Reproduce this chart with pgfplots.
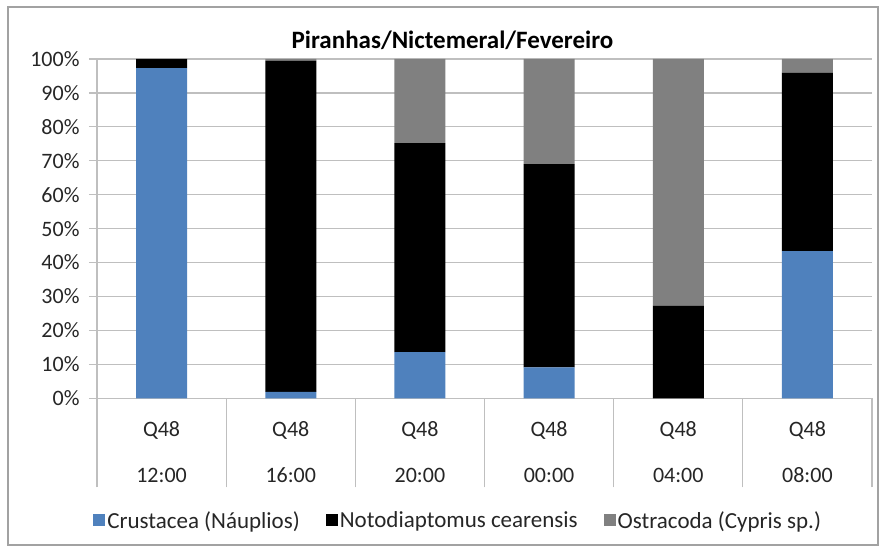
\documentclass[border=0pt]{standalone}
\usepackage{pgfplots}
\pgfplotsset{compat=1.18}
\usepackage{fontspec}
\setmainfont{Carlito}
\definecolor{cBlue}{HTML}{4F81BD}
\definecolor{cGray}{HTML}{808080}
\definecolor{gridc}{HTML}{BFBFBF}
\definecolor{txt}{HTML}{262626}
\begin{document}
\begin{tikzpicture}
\path[use as bounding box] (-97bp,-149.7bp) rectangle (784bp,398.3bp);
\draw[color=gridc!85!black, line width=1.5bp] (-89bp,-146.7bp) rectangle (781bp,391.3bp);
\begin{axis}[
  anchor=south west, at={(0,0)},
  width=775bp, height=339.3bp, scale only axis,
  ybar stacked, bar width=51bp,
  xmin=-0.5, xmax=5.5, ymin=0, ymax=100,
  axis x line*=bottom, axis y line*=left,
  axis line style={gridc, line width=1.2bp},
  ymajorgrids, grid style={gridc, line width=1.2bp},
  ytick={0,10,...,100},
  yticklabels={0\%,10\%,20\%,30\%,40\%,50\%,60\%,70\%,80\%,90\%,100\%},
  y tick label style={font=\fontsize{22bp}{26bp}\selectfont, text=txt, xshift=-6bp},
  ytick style={gridc, line width=1.2bp},
  major tick length=8bp, tick align=outside,
  xtick={0,...,5},
  x tick style={draw=none},
  xticklabels={{Q48\\12:00},{Q48\\16:00},{Q48\\20:00},{Q48\\00:00},{Q48\\04:00},{Q48\\08:00}},
  x tick label style={font=\fontsize{22bp}{46bp}\selectfont, text=txt, align=center, anchor=north, yshift=-12bp},
  extra x ticks={-0.5,0.5,1.5,2.5,3.5,4.5,5.5},
  extra x tick labels={},
  extra x tick style={major tick length=89bp, tick align=outside, grid=none, x tick style={draw=gridc, line width=1.2bp}},
  title={Piranhas/Nictemeral/Fevereiro},
  title style={font=\fontsize{25bp}{29bp}\selectfont\bfseries, at={(0.4587,1)}, anchor=center, yshift=13bp},
  legend style={at={(0.466,-0.36)}, anchor=center, draw=none, fill=none, legend columns=-1,
    font=\fontsize{23bp}{27bp}\selectfont, text=txt,
    /tikz/every even column/.append style={column sep=24bp}},
  legend image code/.code={\fill[#1] (0bp,-6bp) rectangle (12bp,6bp);},
]
\addplot[fill=cBlue, draw=none] coordinates {(0,97.3) (1,1.9) (2,13.6) (3,9.1) (4,0) (5,43.4)};
\addplot[fill=black, draw=none] coordinates {(0,2.7) (1,97.6) (2,61.6) (3,59.9) (4,27.3) (5,52.6)};
\addplot[fill=cGray, draw=none] coordinates {(0,0) (1,0.5) (2,24.8) (3,31.0) (4,72.7) (5,4.0)};
\legend{Crustacea (Náuplios),Notodiaptomus cearensis,Ostracoda (Cypris sp.)}
\end{axis}
\end{tikzpicture}
\end{document}
